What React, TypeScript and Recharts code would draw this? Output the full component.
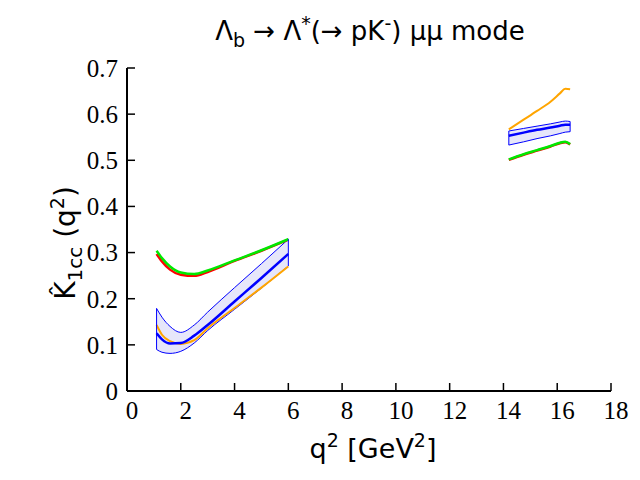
import React from 'react';
import { ComposedChart, Line, Area, XAxis, YAxis } from 'recharts';

// Low-q2 segment
const leftQ2 = [1.1, 1.3, 1.6, 2, 2.5, 3, 4, 5, 6];
const leftGreen = [0.304, 0.288, 0.27, 0.257, 0.2535, 0.261, 0.283, 0.305, 0.329];
const leftRed = [0.297, 0.281, 0.263, 0.252, 0.2495, 0.258, 0.282, 0.304, 0.328];
const leftOrange = [0.143, 0.122, 0.108, 0.102, 0.11, 0.136, 0.18, 0.224, 0.27];
const leftBlue = [0.125, 0.112, 0.103, 0.104, 0.12, 0.143, 0.194, 0.245, 0.297];
const leftBlueHigh = [0.179, 0.16, 0.14, 0.127, 0.143, 0.171, 0.224, 0.276, 0.329];
const leftBlueLow = [0.09, 0.084, 0.0815, 0.086, 0.104, 0.131, 0.177, 0.223, 0.271];

// High-q2 segment
const rightQ2 = [14.2, 14.75, 15.25, 15.75, 16.1, 16.3, 16.48];
const rightGreen = [0.502, 0.513, 0.522, 0.531, 0.538, 0.54, 0.535];
const rightRed = [0.501, 0.512, 0.521, 0.53, 0.537, 0.539, 0.534];
const rightOrange = [0.567, 0.588, 0.607, 0.627, 0.645, 0.655, 0.654];
const rightBlue = [0.553, 0.56, 0.566, 0.571, 0.575, 0.577, 0.577];
const rightBlueHigh = [0.5635, 0.569, 0.574, 0.579, 0.583, 0.585, 0.584];
const rightBlueLow = [0.533, 0.54, 0.547, 0.553, 0.558, 0.561, 0.562];

const xTicks = [0, 2, 4, 6, 8, 10, 12, 14, 16, 18];
const yTicks = [0, 0.1, 0.2, 0.3, 0.4, 0.5, 0.6, 0.7];
const yTickLabels = ['0', '0.1', '0.2', '0.3', '0.4', '0.5', '0.6', '0.7'];

type Row = { q2: number; green: number; red: number; orange: number; blue: number; band: [number, number] };

function buildRows(q: number[], g: number[], r: number[], o: number[], b: number[], lo: number[], hi: number[]): Row[] {
  return q.map((x, i) => ({ q2: x, green: g[i], red: r[i], orange: o[i], blue: b[i], band: [lo[i], hi[i]] }));
}

const leftRows = buildRows(leftQ2, leftGreen, leftRed, leftOrange, leftBlue, leftBlueLow, leftBlueHigh);
const rightRows = buildRows(rightQ2, rightGreen, rightRed, rightOrange, rightBlue, rightBlueLow, rightBlueHigh);

function edge(q: number, lo: number, hi: number) {
  return [
    { q2: q, v: lo },
    { q2: q, v: hi },
  ];
}

const edges = [
  edge(leftQ2[0], leftBlueLow[0], leftBlueHigh[0]),
  edge(leftQ2[leftQ2.length - 1], leftBlueLow[leftQ2.length - 1], leftBlueHigh[leftQ2.length - 1]),
  edge(rightQ2[0], rightBlueLow[0], rightBlueHigh[0]),
  edge(rightQ2[rightQ2.length - 1], rightBlueLow[rightQ2.length - 1], rightBlueHigh[rightQ2.length - 1]),
];

const GREEN = '#00e800';
const RED = '#ff0000';
const ORANGE = '#ffa500';
const BLUE = '#0000ff';
const BAND = '#e6e6fa';

const tickFont = { fontFamily: 'Liberation Serif', fontSize: 25, fill: '#000' };

function renderSegment(rows: Row[], key: string) {
  return [
    <Area
      key={key + 'band'}
      data={rows}
      dataKey="band"
      type="monotone"
      fill={BAND}
      fillOpacity={1}
      stroke={BLUE}
      strokeWidth={1}
      isAnimationActive={false}
      activeDot={false}
    />,
    <Line key={key + 'red'} data={rows} dataKey="red" type="monotone" stroke={RED} strokeWidth={2.5} dot={false} activeDot={false} isAnimationActive={false} />,
    <Line key={key + 'green'} data={rows} dataKey="green" type="monotone" stroke={GREEN} strokeWidth={2.5} dot={false} activeDot={false} isAnimationActive={false} />,
    <Line key={key + 'orange'} data={rows} dataKey="orange" type="monotone" stroke={ORANGE} strokeWidth={2} dot={false} activeDot={false} isAnimationActive={false} />,
    <Line key={key + 'blue'} data={rows} dataKey="blue" type="monotone" stroke={BLUE} strokeWidth={2.5} dot={false} activeDot={false} isAnimationActive={false} />,
  ];
}

export default function App() {
  return (
    <div style={{ position: 'absolute', left: 0, top: 0, width: 640, height: 480, background: '#fff' }}>
      <ComposedChart width={640} height={480} margin={{ top: 68, right: 29, bottom: 59, left: 67 }}>
        <XAxis
          xAxisId="b"
          type="number"
          dataKey="q2"
          domain={[0, 18]}
          ticks={xTicks}
          allowDataOverflow
          height={30}
          stroke="#000"
          strokeWidth={2}
          tickSize={-8}
          tickMargin={18}
          tick={{ ...tickFont, dx: 5 }}
          tickLine={{ stroke: '#000', strokeWidth: 1.5 }}
        />
        <XAxis
          xAxisId="t"
          orientation="top"
          type="number"
          dataKey="q2"
          domain={[0, 18]}
          ticks={xTicks}
          mirror
          height={0}
          stroke="#000"
          strokeWidth={2}
          tickSize={8}
          tick={false}
          tickLine={{ stroke: '#000', strokeWidth: 1.5 }}
        />
        <YAxis
          yAxisId="l"
          type="number"
          domain={[0, 0.7]}
          ticks={yTicks}
          allowDataOverflow
          width={60}
          stroke="#000"
          strokeWidth={2}
          tickSize={-8}
          tickMargin={17}
          tick={tickFont}
          tickFormatter={(v: number) => yTickLabels[yTicks.indexOf(v)] ?? String(v)}
          tickLine={{ stroke: '#000', strokeWidth: 1.5 }}
        />
        <YAxis
          yAxisId="r"
          orientation="right"
          type="number"
          domain={[0, 0.7]}
          ticks={yTicks}
          mirror
          width={0}
          stroke="#000"
          strokeWidth={2}
          tickSize={8}
          tick={false}
          tickLine={{ stroke: '#000', strokeWidth: 1.5 }}
        />
        {[...renderSegment(leftRows, 'L'), ...renderSegment(rightRows, 'R')].map((el) =>
          React.cloneElement(el as React.ReactElement<any>, { xAxisId: 'b', yAxisId: 'l' })
        )}
        {edges.map((d, i) => (
          <Line
            key={'edge' + i}
            xAxisId="b"
            yAxisId="l"
            data={d}
            dataKey="v"
            type="linear"
            stroke={BLUE}
            strokeWidth={1}
            dot={false}
            activeDot={false}
            isAnimationActive={false}
          />
        ))}
      </ComposedChart>
      <svg width={640} height={480} style={{ position: 'absolute', left: 0, top: 0, pointerEvents: 'none' }}>
        <text x={370} y={40} textAnchor="middle" fontFamily="DejaVu Sans" fontSize={26} fill="#000">
          Λ<tspan dy={7} fontSize={19}>b</tspan>
          <tspan dy={-7}> → Λ</tspan>
          <tspan dy={-10} fontSize={19}>*</tspan>
          <tspan dy={10}>(→ pK</tspan>
          <tspan dy={-10} fontSize={19}>-</tspan>
          <tspan dy={10}>) μμ mode</tspan>
        </text>
        <text x={373} y={458} textAnchor="middle" fontFamily="DejaVu Sans" fontSize={27} fill="#000">
          q<tspan dy={-11} fontSize={19}>2</tspan>
          <tspan dy={11}> [GeV</tspan>
          <tspan dy={-11} fontSize={19}>2</tspan>
          <tspan dy={11}>]</tspan>
        </text>
        <text transform="translate(75,243) rotate(-90)" textAnchor="middle" fontFamily="DejaVu Sans" fontSize={28} fill="#000">
          K̂<tspan dy={7} fontSize={20}>1cc</tspan>
          <tspan dy={-7}> (q</tspan>
          <tspan dy={-11} fontSize={19}>2</tspan>
          <tspan dy={11}>)</tspan>
        </text>
      </svg>
    </div>
  );
}
